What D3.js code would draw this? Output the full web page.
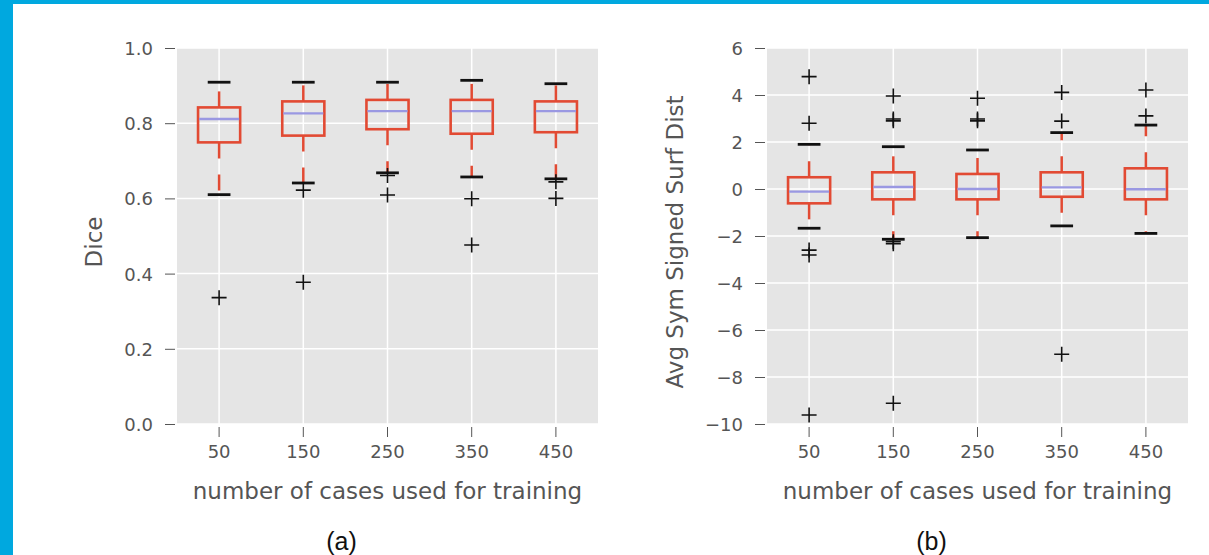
<!DOCTYPE html>
<html>
<head>
<meta charset="utf-8">
<script src="https://cdn.jsdelivr.net/npm/d3@7"></script>
<style>
  html, body { margin: 0; padding: 0; background: #fff; }
  svg { display: block; }
</style>
</head>
<body>
<svg id="chart" width="1209" height="555"></svg>
<script>
// ---------- data ----------
const categories = ["50", "150", "250", "350", "450"];

// Panel (a): Dice
const diceQ1 = [0.749, 0.767, 0.784, 0.772, 0.776];
const diceMedian = [0.811, 0.826, 0.832, 0.832, 0.832];
const diceQ3 = [0.842, 0.858, 0.862, 0.862, 0.858];
const diceWhiskerLow = [0.610, 0.641, 0.668, 0.657, 0.652];
const diceWhiskerHigh = [0.909, 0.909, 0.909, 0.914, 0.905];
const diceOutliers = [[0.336], [0.622, 0.377], [0.661, 0.609], [0.599, 0.476], [0.644, 0.600]];
const diceTicks = [0.0, 0.2, 0.4, 0.6, 0.8, 1.0];

// Panel (b): Avg Sym Signed Surf Dist
const ssdQ1 = [-0.61, -0.44, -0.44, -0.33, -0.44];
const ssdMedian = [-0.11, 0.085, 0.0, 0.07, -0.01];
const ssdQ3 = [0.50, 0.71, 0.64, 0.71, 0.88];
const ssdWhiskerLow = [-1.67, -2.14, -2.07, -1.57, -1.89];
const ssdWhiskerHigh = [1.90, 1.80, 1.66, 2.40, 2.72];
const ssdOutliers = [
  [2.80, 4.78, -2.60, -2.81, -9.62],
  [2.90, 2.98, 3.96, -2.24, -2.33, -9.12],
  [2.90, 2.98, 3.86],
  [2.89, 4.11, -7.03],
  [3.11, 4.21]
];
const ssdTicks = [-10, -8, -6, -4, -2, 0, 2, 4, 6];

const xLabel = "number of cases used for training";

// ---------- drawing ----------
const svg = d3.select("#chart");

// blue frame
svg.append("rect").attr("x", 0).attr("y", 0).attr("width", 13).attr("height", 555).attr("fill", "#00a8df");
svg.append("rect").attr("x", 0).attr("y", 0).attr("width", 1209).attr("height", 4).attr("fill", "#00a8df");

const FONT = "DejaVu Sans, sans-serif";
const GREY = "#555";

function panel(opts) {
  const {x0, x1, y0, y1, domain, ticks, fmt, q1, med, q3, wlo, whi, outl, ylabel, ylabelX, letter} = opts;
  const g = svg.append("g");

  const x = d3.scaleBand().domain(categories).range([x0, x1]).padding(0);
  const y = d3.scaleLinear().domain(domain).range([y1, y0]);
  const bw = x.bandwidth();
  const cx = c => x(c) + bw / 2;

  // background
  g.append("rect").attr("x", x0).attr("y", y0).attr("width", x1 - x0).attr("height", y1 - y0).attr("fill", "#e5e5e5");

  // grid
  g.selectAll(".hg").data(ticks).join("line")
    .attr("x1", x0).attr("x2", x1).attr("y1", d => y(d)).attr("y2", d => y(d))
    .attr("stroke", "#fff").attr("stroke-width", 1.5);
  g.selectAll(".vg").data(categories).join("line")
    .attr("x1", d => cx(d)).attr("x2", d => cx(d)).attr("y1", y0).attr("y2", y1)
    .attr("stroke", "#fff").attr("stroke-width", 1.5);

  // axes
  const yAxis = d3.axisLeft(y).tickValues(ticks).tickFormat(fmt).tickSize(10).tickPadding(12);
  const ya = g.append("g").attr("transform", `translate(${x0 - 2},0)`).call(yAxis);
  const xAxis = d3.axisBottom(x).tickSize(10).tickPadding(8);
  const xa = g.append("g").attr("transform", `translate(0,${y1 + 3})`).call(xAxis);
  [ya, xa].forEach(a => {
    a.select(".domain").remove();
    a.selectAll(".tick line").attr("stroke", GREY).attr("stroke-width", 1);
    a.selectAll(".tick text").attr("fill", GREY).attr("font-family", FONT).attr("font-size", 18);
  });
  ya.selectAll(".tick text").attr("dy", "0.36em");
  xa.selectAll(".tick text").attr("dy", "0.72em");

  const boxW = bw * 0.5;
  const capW = boxW * 0.54;
  const RED = "#e24a33";

  categories.forEach((c, i) => {
    const xc = cx(c);
    // whiskers (dashed)
    g.append("line").attr("x1", xc).attr("x2", xc).attr("y1", y(q3[i])).attr("y2", y(whi[i]))
      .attr("stroke", RED).attr("stroke-width", 2.5).attr("stroke-dasharray", "16,16");
    g.append("line").attr("x1", xc).attr("x2", xc).attr("y1", y(q1[i])).attr("y2", y(wlo[i]))
      .attr("stroke", RED).attr("stroke-width", 2.5).attr("stroke-dasharray", "16,16");
    // caps
    [whi[i], wlo[i]].forEach(v => {
      g.append("line").attr("x1", xc - capW / 2).attr("x2", xc + capW / 2).attr("y1", y(v)).attr("y2", y(v))
        .attr("stroke", "#111").attr("stroke-width", 2.8);
    });
    // box
    g.append("rect").attr("x", xc - boxW / 2).attr("y", y(q3[i])).attr("width", boxW)
      .attr("height", y(q1[i]) - y(q3[i])).attr("fill", "none").attr("stroke", RED).attr("stroke-width", 2.6);
    // median
    g.append("line").attr("x1", xc - boxW / 2 + 1).attr("x2", xc + boxW / 2 - 1).attr("y1", y(med[i])).attr("y2", y(med[i]))
      .attr("stroke", "#9a98e2").attr("stroke-width", 2.4);
    // outliers
    outl[i].forEach(v => {
      g.append("path").attr("transform", `translate(${xc},${y(v)})`)
        .attr("d", "M-7.5,0H7.5M0,-7.5V7.5").attr("stroke", "#111").attr("stroke-width", 1.6).attr("fill", "none");
    });
  });

  // labels
  g.append("text").attr("x", (x0 + x1) / 2).attr("y", 499).attr("text-anchor", "middle")
    .attr("font-family", FONT).attr("font-size", 23).attr("fill", GREY).text(xLabel);
  g.append("text").attr("transform", `translate(${ylabelX},${(y0 + y1) / 2 + 6}) rotate(-90)`).attr("text-anchor", "middle")
    .attr("font-family", FONT).attr("font-size", 23).attr("fill", GREY).text(ylabel);
  g.append("text").attr("x", (x0 + x1) / 2 - 46).attr("y", 550).attr("text-anchor", "middle")
    .attr("font-family", "Liberation Sans, Arial, sans-serif").attr("font-size", 25).attr("fill", "#111").text(letter);
}

const minusFmt = d => (d < 0 ? "\u2212" + Math.abs(d) : String(d));

panel({x0: 177, x1: 598, y0: 48, y1: 424, domain: [0, 1], ticks: diceTicks, fmt: d3.format(".1f"),
  q1: diceQ1, med: diceMedian, q3: diceQ3, wlo: diceWhiskerLow, whi: diceWhiskerHigh, outl: diceOutliers,
  ylabel: "Dice", ylabelX: 102, letter: "(a)"});

panel({x0: 767, x1: 1188, y0: 48, y1: 424, domain: [-10, 6], ticks: ssdTicks, fmt: minusFmt,
  q1: ssdQ1, med: ssdMedian, q3: ssdQ3, wlo: ssdWhiskerLow, whi: ssdWhiskerHigh, outl: ssdOutliers,
  ylabel: "Avg Sym Signed Surf Dist", ylabelX: 683, letter: "(b)"});
</script>
</body>
</html>
